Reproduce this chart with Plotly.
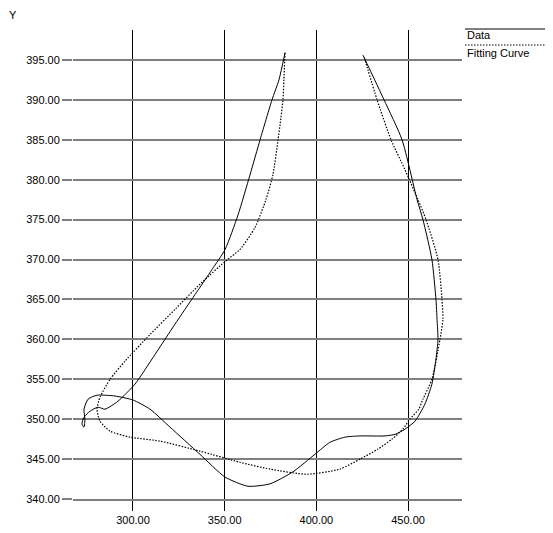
import plotly.graph_objects as go

# ---- Data ----
data_x = [382.9, 379.6, 375.8, 372.5, 369.3, 363.8, 357.3, 350.2, 343.1, 333.8, 322.9, 312.0,
          301.1, 291.8, 284.7, 280.9, 276.6, 273.3, 272.2, 273.3, 273.8, 273.3, 275.5, 280.4,
          290.2, 300.0, 309.3, 320.2, 336.5, 350.2, 362.7, 374.7, 387.2, 399.2, 407.4, 415.6,
          423.8, 437.4, 442.9, 448.3, 453.8, 459.2, 463.0, 465.2, 466.3, 465.8, 465.2, 463.0,
          458.1, 454.9, 446.7, 436.9, 425.4]
data_y = [395.9, 392.5, 390.0, 387.5, 385.0, 380.6, 375.6, 371.25, 368.75, 365.6, 361.9, 358.1,
          354.4, 352.25, 351.25, 351.5, 351.0, 350.25, 349.4, 349.0, 350.0, 351.25, 352.5, 353.0,
          352.9, 352.4, 351.25, 349.0, 345.6, 342.75, 341.6, 341.9, 343.4, 345.6, 347.1, 347.75,
          347.9, 347.9, 348.1, 348.75, 349.75, 351.9, 354.4, 357.5, 360.0, 362.5, 365.0, 370.0,
          375.0, 377.5, 385.0, 390.0, 395.6]

fit_x = [382.9, 382.3, 381.8, 380.2, 379.1, 376.3, 372.5, 366.5, 358.3, 350.2, 336.5, 322.9,
         309.3, 295.6, 287.5, 282.0, 280.4, 282.0, 287.5, 298.4, 314.7, 336.5, 358.3, 374.7,
         394.9, 412.9, 423.8, 433.6, 441.2, 447.2, 451.0, 455.8, 458.1, 463.0, 467.4, 469.0,
         468.5, 466.3, 459.8, 455.4, 448.3, 440.7, 433.1, 426.0]
fit_y = [395.9, 392.5, 390.0, 386.9, 385.0, 380.6, 377.5, 374.0, 371.25, 369.75, 366.9, 363.75,
         360.6, 357.25, 355.0, 352.75, 351.25, 349.75, 348.5, 347.75, 347.25, 346.0, 344.6, 343.75,
         343.1, 343.75, 345.0, 346.25, 347.5, 348.75, 350.0, 351.25, 352.5, 355.0, 360.0, 362.5,
         365.0, 370.0, 375.0, 377.5, 381.25, 385.0, 390.0, 395.4]

x_ticks = [300, 350, 400, 450]
x_tick_labels = ["300.00", "350.00", "400.00", "450.00"]
y_ticks = [340, 345, 350, 355, 360, 365, 370, 375, 380, 385, 390, 395]
y_tick_labels = ["%.2f" % v for v in y_ticks]

FONT = "Liberation Sans, Arial, sans-serif"
DOT = "1.5px,1.5px"

fig = go.Figure()
fig.add_trace(go.Scatter(x=data_x, y=data_y, mode="lines", name="Data",
                         line=dict(color="black", width=1, shape="spline", smoothing=0.6)))
fig.add_trace(go.Scatter(x=fit_x, y=fit_y, mode="lines", name="Fitting Curve",
                         line=dict(color="black", width=1.2, dash=DOT, shape="spline", smoothing=0.6)))

fig.update_layout(
    width=545, height=525,
    margin=dict(l=65, r=91, t=22, b=34),
    paper_bgcolor="white", plot_bgcolor="white",
    showlegend=False,
    font=dict(family=FONT, size=11, color="black"),
    xaxis=dict(range=[267.3, 479.4], tickvals=x_ticks, ticktext=x_tick_labels,
               showgrid=True, gridcolor="black", gridwidth=1,
               ticks="outside", ticklen=10, tickcolor="black", tickwidth=1,
               showline=True, linecolor="#7f7f7f", linewidth=2,
               zeroline=False, automargin=False, tickfont=dict(size=11, family=FONT)),
    yaxis=dict(range=[340, 398.75], tickvals=y_ticks, ticktext=y_tick_labels,
               showgrid=True, gridcolor="#7f7f7f", gridwidth=2,
               ticks="outside", ticklen=10, tickcolor="#7f7f7f", tickwidth=2,
               showline=False, zeroline=False, automargin=False,
               tickfont=dict(size=11, family=FONT)),
)

# axis titles
fig.add_annotation(text="Y", xref="paper", yref="paper", x=-0.154, y=1.033,
                   xanchor="center", yanchor="middle", showarrow=False,
                   font=dict(size=11, family=FONT))
fig.add_annotation(text="X", xref="paper", yref="paper", x=1.2134, y=-0.023,
                   xanchor="left", yanchor="middle", showarrow=False,
                   font=dict(size=11, family=FONT))

# custom legend (line above label)
fig.add_shape(type="line", xref="paper", yref="paper", x0=1.0077, x1=1.25, y0=1.0021, y1=1.0021,
              line=dict(color="black", width=1))
fig.add_shape(type="line", xref="paper", yref="paper", x0=1.0077, x1=1.25, y0=0.968, y1=0.968,
              line=dict(color="black", width=1.2, dash=DOT))
fig.add_annotation(text="Data", xref="paper", yref="paper", x=1.0077, y=0.9893,
                   xanchor="left", yanchor="middle", showarrow=False,
                   font=dict(size=11, family=FONT))
fig.add_annotation(text="Fitting Curve", xref="paper", yref="paper", x=1.0077, y=0.951,
                   xanchor="left", yanchor="middle", showarrow=False,
                   font=dict(size=11, family=FONT))

fig.write_html("out.html")
